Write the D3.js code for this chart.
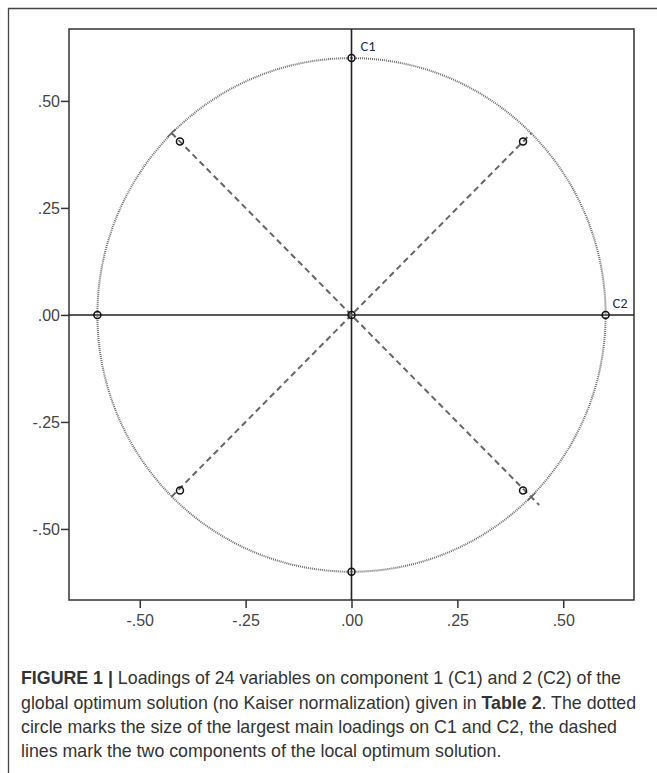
<!DOCTYPE html>
<html><head><meta charset="utf-8">
<script src="https://cdn.jsdelivr.net/npm/d3@7"></script>
<style>
body{margin:0;background:#fff;}
svg{display:block;}
</style></head>
<body>
<svg id="chart" width="657" height="773"></svg>
<script>
// Data
const xTicks = [-0.5, -0.25, 0, 0.25, 0.5];
const yTicks = [-0.5, -0.25, 0, 0.25, 0.5];
const tickLabels = ["-.50", "-.25", ".00", ".25", ".50"];
const loadingsC2 = [0, 0.6, -0.6, 0, -0.405, 0.405, -0.405, 0.405, 0];
const loadingsC1 = [0.6, 0, 0, -0.6, 0.405, 0.405, -0.41, -0.41, 0];
const circleRadius = 0.6;
const localLineA = [[-0.425, 0.425], [0.443, -0.444]];
const localLineB = [[-0.425, -0.425], [0.425, 0.425]];
const axisLabels = ["C1", "C2"];

const svg = d3.select("#chart");
// outer frame (top + left)
svg.append("line").attr("x1",8).attr("y1",8.5).attr("x2",657).attr("y2",8.5).attr("stroke","#444").attr("stroke-width",1.3);
svg.append("line").attr("x1",8.5).attr("y1",8).attr("x2",8.5).attr("y2",773).attr("stroke","#444").attr("stroke-width",1.3);

const L = 69, R = 634, T = 29, B = 600;
const x = d3.scaleLinear().domain([-0.667, 0.667]).range([L, R]);
const y = d3.scaleLinear().domain([-0.666, 0.668]).range([B, T]);

// plot box
svg.append("rect").attr("x",L).attr("y",T).attr("width",R-L).attr("height",B-T)
  .attr("fill","none").attr("stroke","#333").attr("stroke-width",1.5);

// axes
const xAxis = d3.axisBottom(x).tickValues(xTicks).tickSize(8).tickPadding(7)
  .tickFormat((d,i)=>tickLabels[i]);
const yAxis = d3.axisLeft(y).tickValues(yTicks).tickSize(8).tickPadding(1)
  .tickFormat((d,i)=>tickLabels[i]);
const gx = svg.append("g").attr("transform",`translate(0,${B})`).call(xAxis);
const gy = svg.append("g").attr("transform",`translate(${L},0)`).call(yAxis);
[gx,gy].forEach(g=>{
  g.select(".domain").remove();
  g.selectAll(".tick line").attr("stroke","#333").attr("stroke-width",1.5);
  g.selectAll(".tick text").attr("fill","#444").attr("font-family","Liberation Sans, Arial, sans-serif").attr("font-size","16px");
});

// zero lines
svg.append("line").attr("x1",x(0)).attr("x2",x(0)).attr("y1",T).attr("y2",B).attr("stroke","#222").attr("stroke-width",1.6);
svg.append("line").attr("x1",L).attr("x2",R).attr("y1",y(0)).attr("y2",y(0)).attr("stroke","#222").attr("stroke-width",1.6);

// dotted circle
svg.append("ellipse").attr("cx",x(0)).attr("cy",y(0))
  .attr("rx",x(circleRadius)-x(0)).attr("ry",y(0)-y(circleRadius))
  .attr("fill","none").attr("stroke","#6a6a6a").attr("stroke-width",2).attr("stroke-dasharray","1,1");

// dashed local optimum lines
[localLineA, localLineB].forEach(ln=>{
  svg.append("line").attr("x1",x(ln[0][0])).attr("y1",y(ln[0][1])).attr("x2",x(ln[1][0])).attr("y2",y(ln[1][1]))
    .attr("stroke","#666").attr("stroke-width",2).attr("stroke-dasharray","6,4");
});
// small cross ticks at line A ends
[[localLineA[0][0], localLineA[0][1]], [0.425, -0.425]].forEach(p=>{
  const cx = x(p[0]), cy = y(p[1]);
  svg.append("line").attr("x1",cx-4).attr("y1",cy-4).attr("x2",cx+4).attr("y2",cy+4)
    .attr("stroke","#666").attr("stroke-width",1.5).attr("transform",`rotate(90,${cx},${cy})`);
});

// points
svg.selectAll("circle.pt").data(loadingsC2.map((v,i)=>[v, loadingsC1[i]])).enter()
  .append("circle").attr("class","pt")
  .attr("cx",d=>x(d[0])).attr("cy",d=>y(d[1])).attr("r",3.5)
  .attr("fill","none").attr("stroke","#111").attr("stroke-width",1.5);

// axis labels C1, C2
svg.append("text").attr("x",x(0)+9).attr("y",y(circleRadius)-7).text(axisLabels[0])
  .attr("font-family","Carlito, Liberation Sans, sans-serif").attr("font-size","14.5px").attr("fill","#1d2b4a");
svg.append("text").attr("x",x(circleRadius)+7).attr("y",y(0)-7).text(axisLabels[1])
  .attr("font-family","Carlito, Liberation Sans, sans-serif").attr("font-size","14.5px").attr("fill","#1d2b4a");

// caption
const cap = svg.append("text").attr("font-family","Liberation Sans, Arial, sans-serif").attr("font-size","17.8px").attr("fill","#333");
const lines = [
  [["FIGURE 1 | ",true],["Loadings of 24 variables on component 1 (C1) and 2 (C2) of the",false]],
  [["global optimum solution (no Kaiser normalization) given in ",false],["Table 2",true],[". The dotted",false]],
  [["circle marks the size of the largest main loadings on C1 and C2, the dashed",false]],
  [["lines mark the two components of the local optimum solution.",false]]
];
const ys = [684, 709, 733, 757];
lines.forEach((ln,i)=>{
  ln.forEach((seg,j)=>{
    const ts = cap.append("tspan").text(seg[0]).attr("font-weight",seg[1]?"bold":"normal");
    if(j===0) ts.attr("x",21).attr("y",ys[i]);
  });
});
</script>
</body></html>
